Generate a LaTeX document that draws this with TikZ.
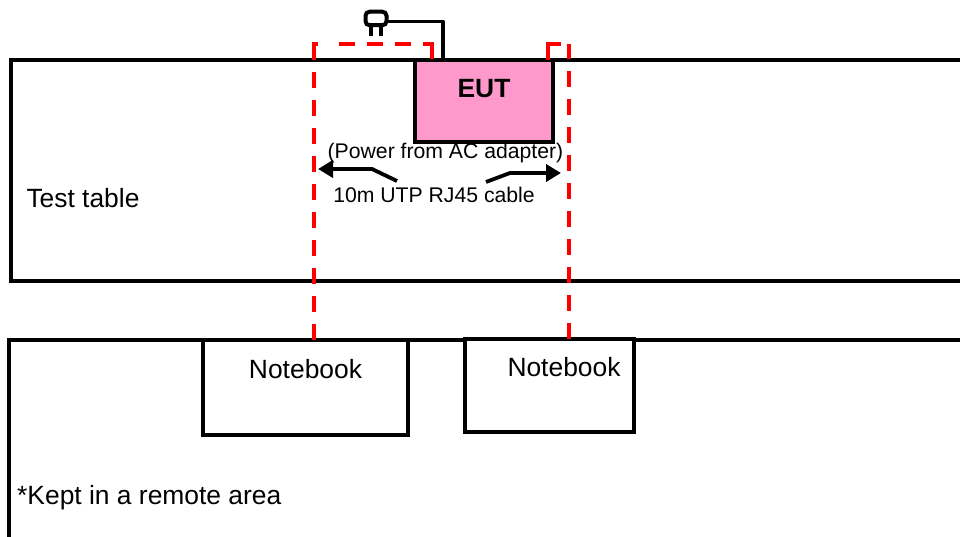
\documentclass[tikz,border=0pt]{standalone}
\usepackage{fontspec}
\setmainfont{Liberation Sans}
\usetikzlibrary{arrows.meta}
\definecolor{eutpink}{HTML}{FF99CC}
\tikzset{
  x=1pt,y=-1pt,
  frameline/.style={draw=black,line width=4pt,line join=miter},
  boxnode/.style={draw=black,line width=4pt,rectangle,outer sep=0pt,inner sep=0pt},
  cable/.style={draw=red,line width=4pt,dash pattern=on 16pt off 12pt},
  wire/.style={draw=black,line width=3.6pt,line join=round},
  pointer/.style={draw=black,line width=3.8pt,-{Triangle[length=15pt,width=17pt]}},
  big/.style={font=\fontsize{26.4}{30}\selectfont,inner sep=0pt},
  small/.style={font=\fontsize{21.2}{25}\selectfont,inner sep=0pt},
}
\begin{document}
\begin{tikzpicture}
\useasboundingbox[fill=white] (0,0) rectangle (960,537);
% frames
\coordinate (t1) at (960,60); \coordinate (t2) at (11,60); \coordinate (t3) at (11,281); \coordinate (t4) at (960,281);
\draw[frameline] (t1) -- (t2) -- (t3) -- (t4);
\coordinate (r1) at (960,340); \coordinate (r2) at (9,340); \coordinate (r3) at (9,537);
\draw[frameline] (r1) -- (r2) -- (r3);
% boxes
\node[boxnode,fill=eutpink,minimum width=138pt,minimum height=82pt] (eut) at (484,101) {};
\node[boxnode,fill=white,minimum width=205pt,minimum height=95pt] (nb1) at (305.5,387.5) {};
\node[boxnode,fill=white,minimum width=169pt,minimum height=93pt] (nb2) at (549.5,385.5) {};
% cables
\coordinate (a1) at (314,44); \coordinate (a0) at (312,44); \coordinate (a2) at (432,44);
\coordinate (b1) at (569,44); \coordinate (b2) at (547.5,44);
\draw[cable] (nb1.north -| a1) -- (a1);
\draw[cable,dash pattern=on 6pt off 21pt on 16pt off 12pt on 16pt off 12pt on 16pt off 12pt on 24pt off 10pt] (a0) -- (a2) -- (eut.north -| a2);
\draw[cable] (nb2.north -| b1) -- (b1);
\draw[cable,dash pattern=on 0pt off 8pt on 30pt off 20pt] (b1) -- (b2) -- (eut.north -| b2);
% plug
\node[draw=black,line width=4pt,rectangle,rounded corners=4pt,minimum width=21pt,minimum height=13.5pt,inner sep=0pt,outer sep=0pt] (plug) at (376,18.5) {};
\coordinate (p1) at (371,36); \coordinate (p2) at (381,36);
\draw[wire] (plug.south -| p1) -- (p1);
\draw[wire] (plug.south -| p2) -- (p2);
\coordinate (w1) at (443,21.5);
\draw[wire] (plug.east |- w1) -- (w1) -- (eut.north -| w1);
% texts
\node[big] (tt) at (83,198) {Test table};
\node[big,font=\fontsize{26.4}{30}\selectfont\bfseries] (euttext) at (484,89) {EUT};
\node[small] (power) at (445.5,153) {(Power from AC adapter)};
\node[small] (utp) at (434,195) {10m UTP RJ45 cable};
\node[big] (nt1) at (305.5,369) {Notebook};
\node[big] (nt2) at (564,367.5) {Notebook};
\node[big,anchor=west] (kept) at (17,498) {*Kept in a remote area};
% pointers
\coordinate (la) at (397,181); \coordinate (lb) at (372,169); \coordinate (lc) at (318,169);
\coordinate (ra) at (486,182); \coordinate (rb) at (510,173); \coordinate (rc) at (561,173);
\draw[pointer] (la) -- (lb) -- (lc);
\draw[pointer] (ra) -- (rb) -- (rc);
\end{tikzpicture}
\end{document}
